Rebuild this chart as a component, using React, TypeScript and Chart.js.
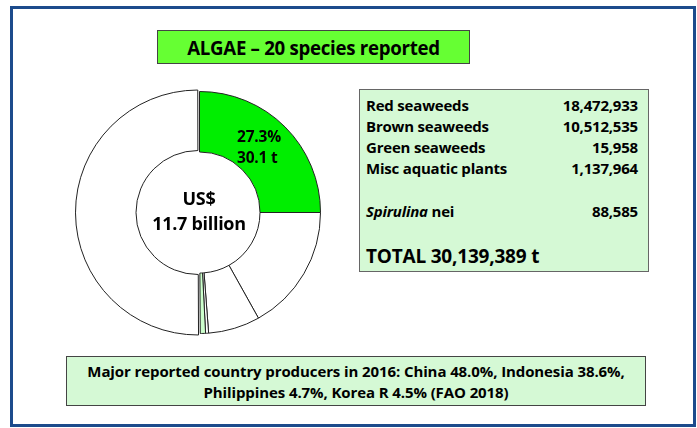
import React, { useEffect, useRef } from "react";
import { Chart, registerables } from "chart.js";

Chart.register(...registerables);

// Doughnut slices (share of circle)
const sliceLabels = ["Algae", "Group B", "Group C", "Group D", "Group E", "Group F"];
const sliceValues = [25.0, 16.9, 6.9, 0.4, 0.7, 50.1];
const sliceColors = ["#00ee00", "#ffffff", "#ffffff", "#ffffff", "#ccffcc", "#ffffff"];
const sliceOffsets = [0, 0, 0, 0, 0, 6];

// Table
const tableNames = ["Red seaweeds", "Brown seaweeds", "Green seaweeds", "Misc aquatic plants"];
const tableValues = ["18,472,933", "10,512,535", "15,958", "1,137,964"];
const spirulinaValue = "88,585";
const totalText = "TOTAL 30,139,389 t";

const titleText = "ALGAE \u2013 20 species reported";
const centerLines = ["US$", "11.7 billion"];
const sliceLabelLines = ["27.3%", "30.1 t"];
const footerLines = [
  "Major reported country producers in 2016: China 48.0%, Indonesia 38.6%,",
  "Philippines 4.7%, Korea R 4.5% (FAO 2018)",
];

const FONT = "'Open Sans', 'Liberation Sans', sans-serif";

export default function App() {
  const ref = useRef<HTMLCanvasElement>(null);
  useEffect(() => {
    const chart = new Chart(ref.current as HTMLCanvasElement, {
      type: "doughnut",
      data: {
        labels: sliceLabels,
        datasets: [
          {
            data: sliceValues,
            backgroundColor: sliceColors,
            borderColor: "#222222",
            borderWidth: 1,
            offset: sliceOffsets,
            hoverOffset: 0,
          },
        ],
      },
      options: {
        animation: false,
        responsive: false,
        cutout: "50%",
        layout: { padding: 0 },
        plugins: { legend: { display: false }, tooltip: { enabled: false } },
      },
    });
    return () => chart.destroy();
  }, []);

  const abs = (l: number, t: number, w: number, h: number): React.CSSProperties => ({
    position: "absolute",
    left: l,
    top: t,
    width: w,
    height: h,
    boxSizing: "border-box",
  });

  return (
    <div
      style={{
        position: "fixed",
        left: 0,
        top: 0,
        width: 697,
        height: 428,
        background: "#ffffff",
        overflow: "hidden",
        fontFamily: FONT,
        fontWeight: 700,
        color: "#000",
      }}
    >
      <div style={{ ...abs(10, 6, 686, 421), border: "3px solid #1c4b8c" }} />
      <canvas ref={ref} width={249} height={249} style={{ position: "absolute", left: 75, top: 88 }} />

      {/* title */}
      <div
        style={{
          ...abs(157, 30, 313, 34),
          background: "#66ff33",
          border: "1px solid #444",
          display: "flex",
          alignItems: "center",
          justifyContent: "center",
          fontSize: 18.7,
          letterSpacing: -0.3,
        }}
      >
        {titleText}
      </div>

      {/* center text */}
      <div style={{ position: "absolute", left: 139, top: 186, width: 120, textAlign: "center", fontSize: 18, lineHeight: "25px", letterSpacing: -0.3 }}>
        {centerLines.map((s, i) => (
          <div key={i}>{s}</div>
        ))}
      </div>

      {/* slice label */}
      <div style={{ position: "absolute", left: 237, top: 126, fontSize: 15.5, lineHeight: "21px", letterSpacing: -0.2 }}>
        {sliceLabelLines.map((s, i) => (
          <div key={i}>{s}</div>
        ))}
      </div>

      {/* table */}
      <div style={{ ...abs(359, 89, 290, 183), background: "#d5f9d5", border: "1px solid #666", letterSpacing: -0.2 }}>
        {tableNames.map((n, i) => (
          <div key={i} style={{ position: "absolute", left: 6, top: 5 + i * 21, width: 272, fontSize: 15, lineHeight: "21px" }}>
            <span>{n}</span>
            <span style={{ position: "absolute", right: 0 }}>{tableValues[i]}</span>
          </div>
        ))}
        <div style={{ position: "absolute", left: 6, top: 111, width: 272, fontSize: 15, lineHeight: "21px" }}>
          <span>
            <i>Spirulina</i> nei
          </span>
          <span style={{ position: "absolute", right: 0 }}>{spirulinaValue}</span>
        </div>
        <div style={{ position: "absolute", left: 6, top: 154, fontSize: 19, lineHeight: "25px" }}>{totalText}</div>
      </div>

      {/* footer */}
      <div
        style={{
          ...abs(66, 356, 580, 50),
          background: "#d5f9d5",
          border: "1px solid #444",
          textAlign: "center",
          fontSize: 15,
          lineHeight: "21px",
          paddingTop: 4,
          letterSpacing: -0.1,
        }}
      >
        {footerLines.map((s, i) => (
          <div key={i}>{s}</div>
        ))}
      </div>
    </div>
  );
}
